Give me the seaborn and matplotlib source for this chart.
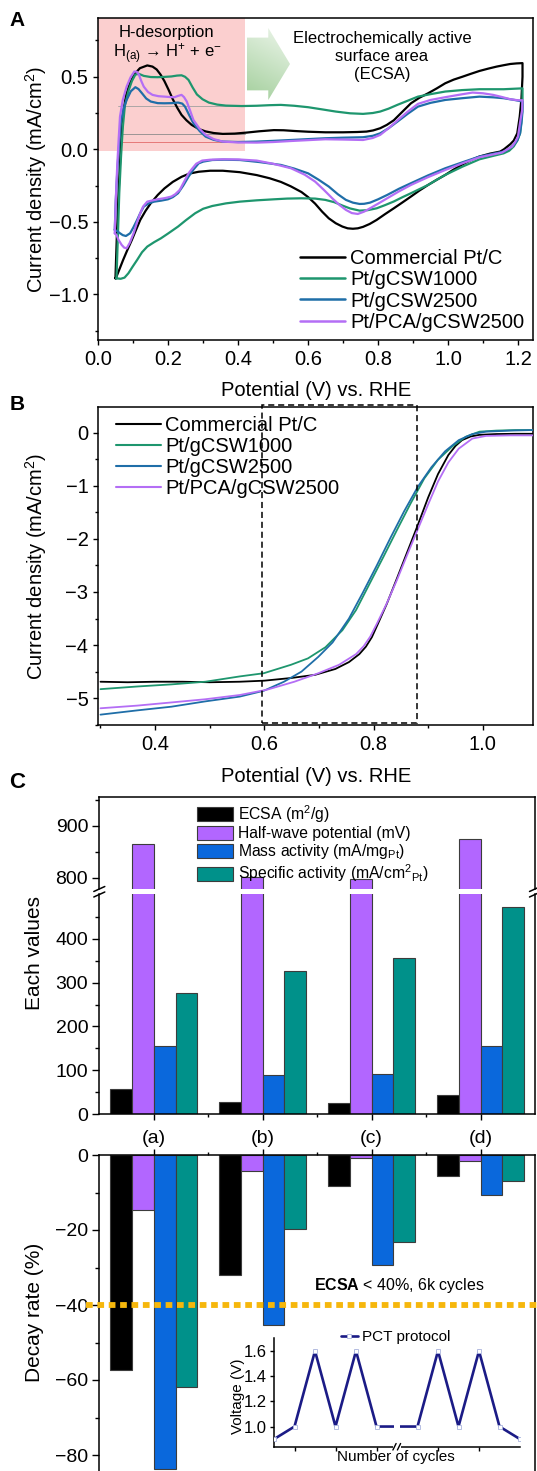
import numpy as np
import pandas as pd
import matplotlib
matplotlib.use("Agg")
import matplotlib.pyplot as plt
import seaborn as sns
from matplotlib.patches import Rectangle, Polygon, Patch
from matplotlib.lines import Line2D
from matplotlib.ticker import MultipleLocator, FixedLocator
from matplotlib.colors import LinearSegmentedColormap
import matplotlib.transforms as mtransforms

# ---------------------------------------------------------------- data
# (A) cyclic voltammograms: closed loops (anodic sweep, then cathodic sweep)
cv_commercial = [
    (0.049, -0.89), (0.053, -0.60), (0.058, -0.30), (0.064, 0.00), (0.071, 0.25), (0.080, 0.38),
    (0.091, 0.46), (0.104, 0.52), (0.119, 0.559), (0.140, 0.578), (0.155, 0.570), (0.167, 0.550),
    (0.178, 0.515), (0.189, 0.470), (0.201, 0.410), (0.213, 0.345), (0.226, 0.285), (0.238, 0.237),
    (0.252, 0.200), (0.267, 0.168), (0.287, 0.140), (0.307, 0.123), (0.330, 0.112), (0.356, 0.106),
    (0.390, 0.108), (0.424, 0.115), (0.460, 0.124), (0.502, 0.132), (0.530, 0.131), (0.561, 0.126),
    (0.600, 0.121), (0.649, 0.117), (0.700, 0.117), (0.740, 0.119), (0.767, 0.122), (0.786, 0.130),
    (0.806, 0.145), (0.825, 0.168), (0.845, 0.200), (0.870, 0.260), (0.894, 0.317), (0.918, 0.355),
    (0.943, 0.386), (0.968, 0.420), (0.992, 0.455), (1.016, 0.480), (1.041, 0.500), (1.065, 0.520),
    (1.090, 0.540), (1.115, 0.556), (1.139, 0.570), (1.160, 0.580), (1.178, 0.588), (1.196, 0.592),
    (1.213, 0.594), (1.213, 0.500), (1.210, 0.350), (1.205, 0.225), (1.198, 0.110), (1.188, 0.060),
    (1.178, 0.035), (1.160, 0.000), (1.149, -0.016), (1.120, -0.030), (1.090, -0.050), (1.065, -0.075),
    (1.041, -0.105), (1.016, -0.140), (0.992, -0.177), (0.968, -0.210), (0.943, -0.246), (0.918, -0.285),
    (0.894, -0.326), (0.870, -0.366), (0.845, -0.407), (0.820, -0.447), (0.796, -0.487), (0.776, -0.515),
    (0.757, -0.535), (0.742, -0.545), (0.728, -0.548), (0.713, -0.545), (0.698, -0.533), (0.679, -0.510),
    (0.659, -0.476), (0.640, -0.430), (0.620, -0.375), (0.600, -0.330), (0.581, -0.295), (0.550, -0.255),
    (0.522, -0.225), (0.490, -0.200), (0.453, -0.178), (0.405, -0.158), (0.356, -0.148), (0.320, -0.148),
    (0.287, -0.155), (0.260, -0.168), (0.238, -0.190), (0.213, -0.225), (0.189, -0.270), (0.170, -0.315),
    (0.150, -0.372), (0.135, -0.425), (0.120, -0.487), (0.108, -0.555), (0.096, -0.625), (0.083, -0.695),
    (0.071, -0.763), (0.060, -0.830), (0.052, -0.878), (0.049, -0.890),
]
cv_gcsw1000 = [
    (0.052, -0.89), (0.056, -0.60), (0.060, -0.30), (0.065, -0.05), (0.070, 0.15), (0.076, 0.30),
    (0.086, 0.40), (0.096, 0.47), (0.106, 0.515), (0.116, 0.520), (0.130, 0.506), (0.150, 0.498),
    (0.169, 0.497), (0.189, 0.499), (0.209, 0.502), (0.225, 0.508), (0.238, 0.510), (0.248, 0.500),
    (0.258, 0.478), (0.270, 0.425), (0.282, 0.378), (0.298, 0.345), (0.316, 0.322), (0.340, 0.308),
    (0.365, 0.301), (0.410, 0.298), (0.453, 0.300), (0.490, 0.304), (0.522, 0.306), (0.560, 0.300),
    (0.600, 0.290), (0.640, 0.275), (0.679, 0.260), (0.720, 0.248), (0.757, 0.244), (0.785, 0.250),
    (0.806, 0.260), (0.830, 0.280), (0.855, 0.306), (0.885, 0.335), (0.914, 0.363), (0.950, 0.380),
    (0.992, 0.398), (1.040, 0.408), (1.090, 0.414), (1.159, 0.414), (1.213, 0.420), (1.213, 0.300),
    (1.210, 0.200), (1.206, 0.110), (1.198, 0.060), (1.188, 0.020), (1.175, -0.010), (1.159, -0.028),
    (1.130, -0.045), (1.090, -0.069), (1.041, -0.120), (0.992, -0.177), (0.968, -0.210), (0.943, -0.246),
    (0.918, -0.275), (0.894, -0.303), (0.870, -0.330), (0.845, -0.360), (0.820, -0.385), (0.796, -0.407),
    (0.770, -0.420), (0.747, -0.423), (0.720, -0.408), (0.698, -0.388), (0.675, -0.365), (0.649, -0.349),
    (0.620, -0.340), (0.581, -0.338), (0.540, -0.340), (0.502, -0.345), (0.453, -0.352), (0.405, -0.361),
    (0.365, -0.373), (0.326, -0.391), (0.300, -0.410), (0.277, -0.441), (0.250, -0.490), (0.228, -0.533),
    (0.200, -0.580), (0.179, -0.614), (0.160, -0.640), (0.140, -0.671), (0.125, -0.710), (0.111, -0.763),
    (0.098, -0.810), (0.086, -0.855), (0.075, -0.885), (0.064, -0.893), (0.052, -0.890),
]
cv_gcsw2500 = [
    (0.047, -0.556), (0.050, -0.35), (0.055, -0.12), (0.060, 0.05), (0.064, 0.18), (0.072, 0.28),
    (0.081, 0.34), (0.093, 0.40), (0.106, 0.428), (0.115, 0.415), (0.125, 0.386), (0.137, 0.350),
    (0.150, 0.329), (0.170, 0.318), (0.189, 0.317), (0.210, 0.318), (0.228, 0.322), (0.240, 0.315),
    (0.248, 0.294), (0.260, 0.235), (0.272, 0.179), (0.290, 0.125), (0.307, 0.087), (0.330, 0.065),
    (0.356, 0.053), (0.400, 0.050), (0.453, 0.053), (0.500, 0.058), (0.551, 0.064), (0.600, 0.070),
    (0.649, 0.076), (0.700, 0.080), (0.757, 0.083), (0.785, 0.093), (0.806, 0.110), (0.830, 0.145),
    (0.855, 0.190), (0.885, 0.245), (0.914, 0.294), (0.950, 0.320), (0.992, 0.340), (1.040, 0.352),
    (1.090, 0.363), (1.130, 0.358), (1.159, 0.352), (1.190, 0.340), (1.213, 0.329), (1.213, 0.260),
    (1.210, 0.180), (1.206, 0.110), (1.198, 0.060), (1.188, 0.030), (1.175, 0.005), (1.159, -0.016),
    (1.130, -0.030), (1.090, -0.050), (1.041, -0.090), (0.992, -0.131), (0.943, -0.180), (0.894, -0.234),
    (0.860, -0.272), (0.826, -0.315), (0.800, -0.345), (0.777, -0.368), (0.760, -0.376), (0.747, -0.377),
    (0.728, -0.368), (0.708, -0.349), (0.685, -0.310), (0.659, -0.257), (0.630, -0.210), (0.600, -0.166),
    (0.560, -0.133), (0.522, -0.108), (0.460, -0.088), (0.405, -0.074), (0.360, -0.072), (0.326, -0.074),
    (0.300, -0.085), (0.287, -0.097), (0.272, -0.140), (0.258, -0.189), (0.243, -0.250), (0.228, -0.303),
    (0.213, -0.330), (0.199, -0.345), (0.180, -0.354), (0.160, -0.361), (0.145, -0.372), (0.130, -0.395),
    (0.120, -0.440), (0.111, -0.487), (0.100, -0.540), (0.091, -0.579), (0.079, -0.598), (0.070, -0.592),
    (0.062, -0.579), (0.054, -0.565), (0.047, -0.556),
]
cv_pca_gcsw2500 = [
    (0.047, -0.579), (0.050, -0.35), (0.054, -0.12), (0.058, 0.06), (0.062, 0.225), (0.070, 0.340),
    (0.081, 0.432), (0.092, 0.495), (0.103, 0.536), (0.110, 0.535), (0.116, 0.515), (0.123, 0.470),
    (0.130, 0.432), (0.142, 0.395), (0.155, 0.375), (0.172, 0.366), (0.189, 0.363), (0.205, 0.360),
    (0.218, 0.359), (0.228, 0.368), (0.238, 0.375), (0.245, 0.360), (0.253, 0.329), (0.262, 0.270),
    (0.272, 0.202), (0.290, 0.140), (0.307, 0.099), (0.330, 0.070), (0.356, 0.053), (0.400, 0.047),
    (0.453, 0.046), (0.500, 0.050), (0.551, 0.057), (0.600, 0.063), (0.649, 0.069), (0.700, 0.067),
    (0.757, 0.064), (0.785, 0.078), (0.806, 0.099), (0.830, 0.145), (0.855, 0.198), (0.885, 0.260),
    (0.914, 0.313), (0.950, 0.340), (0.992, 0.359), (1.030, 0.375), (1.070, 0.391), (1.100, 0.386),
    (1.129, 0.375), (1.155, 0.360), (1.178, 0.345), (1.200, 0.338), (1.213, 0.338), (1.212, 0.270),
    (1.207, 0.200), (1.200, 0.087), (1.192, 0.050), (1.183, 0.018), (1.170, 0.000), (1.154, -0.023),
    (1.130, -0.035), (1.090, -0.055), (1.041, -0.097), (0.992, -0.143), (0.943, -0.192), (0.894, -0.246),
    (0.860, -0.290), (0.826, -0.338), (0.800, -0.375), (0.777, -0.407), (0.760, -0.430), (0.742, -0.446),
    (0.725, -0.440), (0.708, -0.418), (0.690, -0.385), (0.669, -0.338), (0.645, -0.280), (0.620, -0.223),
    (0.590, -0.175), (0.551, -0.131), (0.500, -0.100), (0.453, -0.078), (0.400, -0.070), (0.356, -0.069),
    (0.320, -0.072), (0.297, -0.078), (0.280, -0.100), (0.268, -0.135), (0.258, -0.166), (0.245, -0.225),
    (0.233, -0.280), (0.220, -0.310), (0.209, -0.326), (0.190, -0.337), (0.169, -0.345), (0.140, -0.361),
    (0.128, -0.395), (0.120, -0.441), (0.110, -0.510), (0.101, -0.579), (0.090, -0.645), (0.081, -0.683),
    (0.074, -0.678), (0.067, -0.660), (0.058, -0.625), (0.052, -0.591), (0.047, -0.579),
]
# H-desorption window and the integration baselines drawn inside it
hdes_window = (0.0, 0.42)
ecsa_baselines = [(0.30, "#a0a0a0"), (0.108, "#8c8c8c"), (0.048, "#e36a6a")]

# (B) ORR polarisation curves
lsv_commercial_v = [0.300, 0.350, 0.400, 0.450, 0.500, 0.555, 0.600, 0.649, 0.693, 0.730, 0.755, 0.774,
                    0.786, 0.797, 0.808, 0.824, 0.843, 0.862, 0.881, 0.900, 0.918, 0.937, 0.950, 0.962,
                    0.978, 0.994, 1.025, 1.060, 1.092]
lsv_commercial_j = [-4.69, -4.70, -4.69, -4.69, -4.70, -4.69, -4.67, -4.62, -4.56, -4.45, -4.32, -4.17,
                    -4.03, -3.85, -3.60, -3.23, -2.74, -2.24, -1.74, -1.22, -0.78, -0.42, -0.25, -0.14,
                    -0.07, -0.04, -0.025, -0.02, -0.02]
lsv_gcsw1000_v = [0.300, 0.367, 0.430, 0.492, 0.555, 0.599, 0.649, 0.680, 0.712, 0.743, 0.768, 0.793,
                  0.818, 0.843, 0.868, 0.893, 0.918, 0.944, 0.969, 0.994, 1.025, 1.060, 1.092]
lsv_gcsw1000_j = [-4.83, -4.78, -4.74, -4.69, -4.59, -4.53, -4.37, -4.25, -4.04, -3.72, -3.34, -2.84,
                  -2.34, -1.83, -1.33, -0.86, -0.51, -0.26, -0.075, 0.02, 0.04, 0.05, 0.05]
lsv_gcsw2500_v = [0.300, 0.367, 0.430, 0.492, 0.555, 0.599, 0.636, 0.668, 0.699, 0.725, 0.755, 0.780,
                  0.806, 0.831, 0.856, 0.881, 0.906, 0.931, 0.956, 0.981, 1.006, 1.050, 1.092]
lsv_gcsw2500_j = [-5.31, -5.23, -5.16, -5.06, -4.97, -4.86, -4.69, -4.50, -4.22, -3.95, -3.50, -3.02,
                  -2.50, -1.98, -1.48, -1.02, -0.65, -0.35, -0.14, -0.025, 0.02, 0.04, 0.05]
lsv_pca_v = [0.300, 0.367, 0.430, 0.492, 0.555, 0.605, 0.655, 0.699, 0.737, 0.768, 0.782, 0.794,
             0.806, 0.824, 0.843, 0.862, 0.881, 0.900, 0.918, 0.937, 0.956, 0.981, 1.006, 1.050, 1.092]
lsv_pca_j = [-5.19, -5.14, -5.08, -5.02, -4.94, -4.84, -4.69, -4.53, -4.37, -4.17, -4.02, -3.84,
             -3.60, -3.22, -2.77, -2.29, -1.82, -1.35, -0.92, -0.56, -0.30, -0.11, -0.06, -0.05, -0.05]
# kinetic window marked with a dashed box
kinetic_window = (0.595, 0.88)

# (C) catalyst metrics before/after the durability test
samples = ["(a)", "(b)", "(c)", "(d)"]
metrics = ["ECSA (m$^2$/g)", "Half-wave potential (mV)",
           "Mass activity (mA/mg$_{\\rm Pt}$)", "Specific activity (mA/cm$^2$$_{\\rm Pt}$)"]
ecsa = [57, 28, 26, 43]
half_wave = [864, 801, 797, 874]
mass_activity = [156, 90, 92, 156]
specific_activity = [276, 326, 355, 472]
decay_ecsa = [-57.3, -32.0, -8.3, -5.6]
decay_half_wave = [-14.7, -4.3, -0.7, -1.6]
decay_mass = [-83.8, -45.4, -29.3, -10.7]
decay_specific = [-61.9, -19.7, -23.1, -6.8]
ecsa_limit = -40

# potential-cycling protocol (inset)
pct_step = [0, 1, 2, 3, 4, 5, 7, 8, 9, 10, 11, 12]
pct_voltage = [0.9, 1.0, 1.6, 1.0, 1.6, 1.0, 1.0, 1.6, 1.0, 1.6, 1.0, 0.9]

# ---------------------------------------------------------------- style
sns.set_theme(style="ticks")
plt.rcParams.update({
    "font.family": ["Liberation Sans", "DejaVu Sans"],
    "mathtext.fontset": "custom",
    "mathtext.rm": "Liberation Sans",
    "mathtext.it": "Liberation Sans:italic",
    "mathtext.bf": "Liberation Sans:bold",
    "mathtext.default": "regular",
    "axes.linewidth": 1.1,
    "axes.edgecolor": "black",
    "axes.labelcolor": "black",
    "text.color": "black",
    "xtick.color": "black",
    "ytick.color": "black",
    "xtick.direction": "out",
    "ytick.direction": "out",
    "legend.frameon": False,
})

sample_names = ["Commercial Pt/C", "Pt/gCSW1000", "Pt/gCSW2500", "Pt/PCA/gCSW2500"]
line_colors = ["#000000", "#1e966e", "#1f6ea8", "#b46ef5"]
bar_colors = ["#000000", "#b266ff", "#0a68dc", "#00918a"]

W, H = 537.0, 1471.0
fig = plt.figure(figsize=(W / 100, H / 100), dpi=100)


def frame(l, t, r, b):
    return [l / W, 1 - b / H, (r - l) / W, (b - t) / H]


def fpt(px, py):
    return px / W, 1 - py / H


def style_ticks(ax, size, major=5.0, minor=3.0, pad=3.5):
    ax.tick_params(which="major", length=major * 0.72, width=1.0, labelsize=size, pad=pad)
    ax.tick_params(which="minor", length=minor * 0.72, width=1.0)
    ax.tick_params(which="both", top=False, right=False)


# ---------------------------------------------------------------- panel A
axA = fig.add_axes(frame(98.3, 18.3, 533, 340))
axA.add_patch(Rectangle((hdes_window[0], -0.012), hdes_window[1] - hdes_window[0], 5,
                        facecolor="#fbcfcf", edgecolor="none", zorder=0))
for level, col in ecsa_baselines:
    axA.plot([0.056, hdes_window[1]], [level, level], color=col, lw=0.6, zorder=1)

for pts, col in zip([cv_commercial, cv_gcsw1000, cv_gcsw2500, cv_pca_gcsw2500], line_colors):
    arr = np.array(pts)
    sns.lineplot(x=arr[:, 0], y=arr[:, 1], sort=False, estimator=None, color=col,
                 lw=1.6, ax=axA, zorder=3)

# pale green arrow pointing from the H-desorption region to the ECSA caption
arrow_pts = [(0.341, 0.776), (0.391, 0.776), (0.391, 0.746), (0.441, 0.858),
             (0.391, 0.970), (0.391, 0.940), (0.341, 0.940)]
arrow_poly = Polygon(arrow_pts, closed=True, transform=axA.transAxes,
                     facecolor="none", edgecolor="none")
axA.add_patch(arrow_poly)
gy, gx = np.mgrid[0:1:80j, 0:1:80j]
green_cmap = LinearSegmentedColormap.from_list("fade", ["#eef6ec", "#a3cf9c"])
im = axA.imshow(0.75 * gy + 0.25 * (1 - gx), extent=[0.341, 0.441, 0.746, 0.970],
                transform=axA.transAxes, cmap=green_cmap, origin="upper", aspect="auto",
                vmin=0, vmax=1, zorder=1)
im.set_clip_path(arrow_poly)

axA.set_xlim(0, 1.243)
axA.set_ylim(-1.315, 0.903)
axA.set_xticks(np.arange(0, 1.21, 0.2))
axA.xaxis.set_minor_locator(MultipleLocator(0.1))
axA.set_yticks([-1.0, -0.5, 0.0, 0.5])
axA.yaxis.set_minor_locator(MultipleLocator(0.25))
axA.xaxis.set_major_formatter(matplotlib.ticker.FormatStrFormatter("%.1f"))
axA.yaxis.set_major_formatter(matplotlib.ticker.FuncFormatter(lambda v, p: f"{v:.1f}".replace("-", "\u2212")))
style_ticks(axA, 14.5)
axA.set_xlabel("Potential (V) vs. RHE", fontsize=14.5, va="center")
axA.xaxis.set_label_coords(0.5, (340 - 390) / 321.7)
axA.set_ylabel("Current density (mA/cm$^2$)", fontsize=14.5, va="center")
axA.yaxis.set_label_coords((36 - 98.3) / 434.7, 0.5)

handles = [Line2D([], [], color=c, lw=1.8) for c in line_colors]
axA.legend(handles, sample_names, loc="lower right", bbox_to_anchor=(0.98, 0.025),
           fontsize=14.5, handlelength=2.25, handletextpad=0.25, labelspacing=0.12,
           borderpad=0, borderaxespad=0)

fig.text(*fpt(166, 33), "H-desorption", ha="center", va="center", fontsize=12)
fig.text(*fpt(167, 54), "H$_{(a)}$ \u2192 H$^{+}$ + e$^{-}$", ha="center", va="center", fontsize=12)
fig.text(*fpt(382, 56.5), "Electrochemically active\nsurface area\n(ECSA)", ha="center",
         va="center", fontsize=12, linespacing=1.22, multialignment="center")

# ---------------------------------------------------------------- panel B
axB = fig.add_axes(frame(98.3, 406.7, 533, 725))
for v, j, col in zip([lsv_commercial_v, lsv_gcsw1000_v, lsv_gcsw2500_v, lsv_pca_v],
                     [lsv_commercial_j, lsv_gcsw1000_j, lsv_gcsw2500_j, lsv_pca_j], line_colors):
    sns.lineplot(x=v, y=j, sort=False, estimator=None, color=col, lw=1.3, ax=axB, zorder=3)
axB.set_xlim(0.296, 1.092)
axB.set_ylim(-5.505, 0.49)
axB.add_patch(Rectangle((kinetic_window[0], -5.47), kinetic_window[1] - kinetic_window[0], 5.99,
                        fill=False, edgecolor="black", lw=1.1, ls=(0, (4, 2.5)),
                        clip_on=False, zorder=6))
axB.set_xticks([0.4, 0.6, 0.8, 1.0])
axB.xaxis.set_minor_locator(MultipleLocator(0.1))
axB.set_yticks([-5, -4, -3, -2, -1, 0])
axB.yaxis.set_minor_locator(MultipleLocator(0.5))
axB.xaxis.set_major_formatter(matplotlib.ticker.FormatStrFormatter("%.1f"))
style_ticks(axB, 14.5)
axB.set_xlabel("Potential (V) vs. RHE", fontsize=14.5, va="center")
axB.xaxis.set_label_coords(0.5, (725 - 776.7) / 318.3)
axB.set_ylabel("Current density (mA/cm$^2$)", fontsize=14.5, va="center")
axB.yaxis.set_label_coords((36 - 98.3) / 434.7, 0.5)
handles = [Line2D([], [], color=c, lw=1.5) for c in line_colors]
axB.legend(handles, sample_names, loc="upper left", bbox_to_anchor=(0.041, 0.972),
           fontsize=14.5, handlelength=2.25, handletextpad=0.2, labelspacing=0.1,
           borderpad=0, borderaxespad=0)

# ---------------------------------------------------------------- panel C
perf = pd.DataFrame({
    "sample": samples * 4,
    "metric": np.repeat(metrics, len(samples)),
    "value": ecsa + half_wave + mass_activity + specific_activity,
})
decay = pd.DataFrame({
    "sample": samples * 4,
    "metric": np.repeat(metrics, len(samples)),
    "value": decay_ecsa + decay_half_wave + decay_mass + decay_specific,
})
bar_kw = dict(x="sample", y="value", hue="metric", order=samples, hue_order=metrics,
              palette=bar_colors, width=0.8, saturation=1, edgecolor="#3c3c3c",
              linewidth=0.8, legend=False)

axCu = fig.add_axes(frame(99.3, 797.3, 535, 889))
axCl = fig.add_axes(frame(99.3, 894, 535, 1114.3))
axD = fig.add_axes(frame(99.3, 1155, 535, 1477.5))
for ax in (axCu, axCl):
    sns.barplot(data=perf, ax=ax, **bar_kw)
sns.barplot(data=decay, ax=axD, **bar_kw)

for ax in (axCu, axCl, axD):
    ax.set_xlim(-0.5, 3.5)
    ax.set_xlabel("")
    ax.set_ylabel("")

axCu.set_ylim(778, 955)
axCu.set_yticks([800, 900])
axCu.yaxis.set_minor_locator(FixedLocator([850, 950]))
axCu.set_xticks([])
axCu.spines["bottom"].set_visible(False)
style_ticks(axCu, 14, major=7, minor=4, pad=3)
axCu.tick_params(axis="x", which="both", bottom=False, labelbottom=False)

axCl.set_ylim(0, 501.8)
axCl.set_yticks([0, 100, 200, 300, 400])
axCl.yaxis.set_minor_locator(FixedLocator([50, 150, 250, 350, 450]))
axCl.set_xticks(range(len(samples)))
axCl.set_xticklabels(samples)
axCl.xaxis.set_minor_locator(FixedLocator([0.5, 1.5, 2.5]))
axCl.spines["top"].set_visible(False)
style_ticks(axCl, 14, major=7, minor=4, pad=3)
axCl.tick_params(axis="x", which="major", length=4, pad=7)
axCl.tick_params(axis="x", which="minor", length=2.5)
axCl.set_ylabel("Each values", fontsize=15, va="center")
axCl.yaxis.set_label_coords((35 - 99.3) / 435.7, (1114.3 - 953) / 220.3)

leg_handles = [Patch(facecolor=c, edgecolor="#3c3c3c", lw=0.8) for c in bar_colors]
leg = axCu.legend(leg_handles, metrics, loc="upper left", bbox_to_anchor=(0.224, 0.94),
                  fontsize=11.3, handlelength=2.3, handleheight=1.0, handletextpad=0.3,
                  labelspacing=0.08, borderpad=0, borderaxespad=0)
leg.set_zorder(10)

axD.set_ylim(-86, 0)
axD.set_yticks([-80, -60, -40, -20, 0])
axD.yaxis.set_minor_locator(MultipleLocator(10))
axD.set_xticks(range(len(samples)))
axD.xaxis.set_minor_locator(FixedLocator([0.5, 1.5, 2.5]))
style_ticks(axD, 14, major=7, minor=4, pad=3)
axD.tick_params(axis="x", which="both", top=True, bottom=False, labeltop=False, labelbottom=False)
axD.tick_params(axis="x", which="major", length=4)
axD.tick_params(axis="x", which="minor", length=2.5)
axD.set_ylabel("Decay rate (%)", fontsize=15, va="center")
axD.yaxis.set_label_coords((34 - 99.3) / 435.7, (1477.5 - 1312) / 322.5)

# ECSA retention threshold
blend = mtransforms.blended_transform_factory(axD.transAxes, axD.transData)
axD.plot([-0.031, 1.01], [ecsa_limit, ecsa_limit], transform=blend, color="#f6b70c", lw=4.2,
         dashes=(1.15, 0.8), dash_capstyle="butt", clip_on=False, zorder=5)
axD.text(0.493, ecsa_limit + 5.3, "$\\mathbf{ECSA}$ < 40%, 6k cycles", transform=blend,
         ha="left", va="center", fontsize=11.5)

# axis-break marks on both sides of panel C
for sx in (99.3, 535):
    for sy in (889, 894.5):
        x0, y0 = fpt(sx - 5.5, sy + 2.5)
        x1, y1 = fpt(sx + 5.5, sy - 2.5)
        fig.add_artist(Line2D([x0, x1], [y0, y1], transform=fig.transFigure, color="black", lw=1.1))

# ---------------------------------------------------------------- inset: PCT protocol
axI = fig.add_axes(frame(274, 1338, 520, 1446.7))
axI.patch.set_alpha(0)
sns.lineplot(x=pct_step, y=pct_voltage, sort=False, estimator=None, color="#1b1b86", lw=1.9,
             marker="s", markersize=3.2, markerfacecolor="white", markeredgecolor="#aab4dd",
             markeredgewidth=0.6, ax=axI, zorder=3)
axI.set_xlim(0, 12)
axI.set_ylim(0.84, 1.703)
axI.spines["top"].set_visible(False)
axI.spines["right"].set_visible(False)
axI.set_yticks([1.0, 1.2, 1.4, 1.6])
axI.yaxis.set_major_formatter(matplotlib.ticker.FormatStrFormatter("%.1f"))
axI.set_xticks([1, 3, 5, 8, 10])
axI.tick_params(axis="x", labelbottom=False)
style_ticks(axI, 12, major=4, minor=2, pad=2)
axI.add_patch(Rectangle((5.87, 0.95), 0.26, 0.1, facecolor="white", edgecolor="none", zorder=5))
axI.add_patch(Rectangle((5.8, -0.06), 0.4, 0.12, transform=mtransforms.blended_transform_factory(
    axI.transData, axI.transAxes), facecolor="white", edgecolor="none", clip_on=False, zorder=5))
for bx in (394.5, 399.0):
    x0, y0 = fpt(bx - 1.6, 1450)
    x1, y1 = fpt(bx + 1.6, 1443.5)
    fig.add_artist(Line2D([x0, x1], [y0, y1], transform=fig.transFigure, color="black", lw=1.0))
axI.set_xlabel("Number of cycles", fontsize=11, va="center")
axI.xaxis.set_label_coords((396 - 274) / 246, (1446.7 - 1457) / 108.7)
axI.set_ylabel("Voltage (V)", fontsize=11, va="center")
axI.yaxis.set_label_coords((238 - 274) / 246, (1446.7 - 1396) / 108.7)
pct_handle = Line2D([], [], color="#1b1b86", lw=1.9, marker="s", markersize=3.2,
                    markerfacecolor="white", markeredgecolor="#aab4dd", markeredgewidth=0.6)
axI.legend([pct_handle], ["PCT protocol"], loc="center", bbox_to_anchor=(0.494, 1.01),
           fontsize=11, handlelength=1.1, handletextpad=0.25, borderpad=0, borderaxespad=0)

# ---------------------------------------------------------------- panel letters
for letter, (px, py), size in [("A", (17, 20), 15), ("B", (17, 404.5), 15), ("C", (17, 782), 16)]:
    fig.text(*fpt(px, py), letter, ha="center", va="center", fontsize=size, fontweight="bold")

fig.savefig("out.png", dpi=100, facecolor="white")
